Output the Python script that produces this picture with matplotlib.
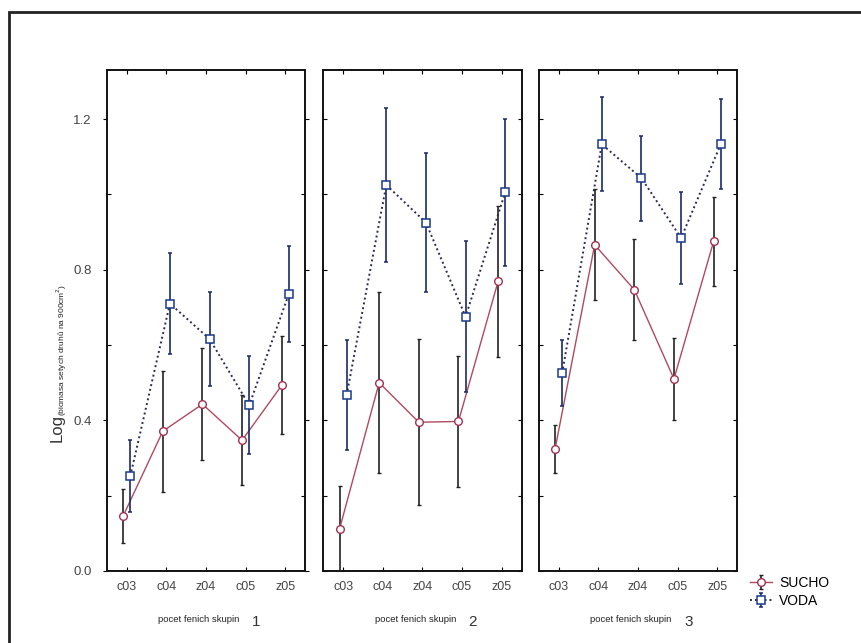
import matplotlib.pyplot as plt
from matplotlib.patches import Rectangle
import numpy as np

plt.rcParams['font.family'] = ['Liberation Sans', 'DejaVu Sans']

# categories and data
categories = ["c03", "c04", "z04", "c05", "z05"]
panels = ["1", "2", "3"]

sucho_mean = [
    [0.146, 0.371, 0.443, 0.347, 0.493],
    [0.111, 0.500, 0.395, 0.397, 0.769],
    [0.323, 0.866, 0.747, 0.510, 0.875],
]
sucho_err = [
    [0.073, 0.160, 0.148, 0.120, 0.130],
    [0.115, 0.240, 0.220, 0.175, 0.200],
    [0.064, 0.147, 0.135, 0.108, 0.118],
]
voda_mean = [
    [0.252, 0.710, 0.616, 0.440, 0.736],
    [0.467, 1.025, 0.925, 0.675, 1.006],
    [0.525, 1.133, 1.043, 0.884, 1.133],
]
voda_err = [
    [0.095, 0.135, 0.125, 0.130, 0.127],
    [0.145, 0.205, 0.185, 0.200, 0.195],
    [0.087, 0.125, 0.113, 0.122, 0.120],
]

fig = plt.figure(figsize=(8.62, 6.43), dpi=100)

# outer frame of the scanned figure
fig.patches.append(Rectangle((0.0104, -0.05), 1.2, 1.031, transform=fig.transFigure,
                             fill=False, lw=2, ec="#222222"))

lefts = [0.124, 0.375, 0.625]
x = np.arange(len(categories))
off = 0.09
handles = []
for i, left in enumerate(lefts):
    ax = fig.add_axes([left, 0.112, 0.230, 0.779])
    hs = ax.errorbar(x - off, sucho_mean[i], yerr=sucho_err[i], color="#b04a60", lw=1,
                     marker="o", ms=5.5, mfc="white", mec="#a03050", mew=1,
                     ecolor="#222222", elinewidth=1.2, capsize=1.5, label="SUCHO", zorder=3)
    hv = ax.errorbar(x + off, voda_mean[i], yerr=voda_err[i], color="#2a2a55", lw=1.4,
                     ls=(0, (1, 1.5)), marker="s", ms=6, mfc="white", mec="#1a3a8a",
                     mew=1.1, ecolor="#1a2a6a", elinewidth=1.2, capsize=1.5,
                     label="VODA", zorder=4)
    if i == 0:
        handles = [hs, hv]
    ax.set_xlim(-0.5, 4.5)
    ax.set_ylim(0, 1.33)
    ax.set_xticks(x)
    ax.set_xticklabels(categories, fontsize=9, color="#444444")
    ax.set_yticks([0.0, 0.4, 0.8, 1.2])
    ax.set_yticks(np.arange(0.2, 1.3, 0.4), minor=True)
    ax.tick_params(axis="both", which="both", direction="in", length=3,
                   top=True, right=True, width=0.8)
    ax.tick_params(axis="x", pad=7)
    if i == 0:
        ax.set_yticklabels(["0.0", "0.4", "0.8", "1.2"], fontsize=9.5, color="#444444")
        ax.tick_params(axis="y", which="major", direction="out", length=3, pad=8)
    else:
        ax.set_yticklabels([])
    for s in ax.spines.values():
        s.set_linewidth(1.4)
        s.set_color("#111111")
    ax.text(0.465, -0.096, "pocet fenich skupin", transform=ax.transAxes,
            fontsize=6.8, ha="center", va="center", color="#222222")
    ax.text(0.755, -0.102, panels[i], transform=ax.transAxes,
            fontsize=11, ha="center", va="center", color="#333333")

# y axis label: big "Log" and small rest
fig.text(0.066, 1 - 428 / 643, "Log", rotation=90, fontsize=12, ha="center",
         va="center", color="#333333")
fig.text(0.072, 1 - 350 / 643, "(biomasa setych druhů na 900cm$^2$)", rotation=90,
         fontsize=6, ha="center", va="center", color="#222222")

fig.legend(handles, ["SUCHO", "VODA"], loc="center left",
           bbox_to_anchor=(0.862, 1 - 592 / 643), frameon=False, fontsize=10,
           handlelength=1.6, handletextpad=0.5, labelspacing=0.25, borderpad=0)

fig.savefig("out.png", dpi=100)
